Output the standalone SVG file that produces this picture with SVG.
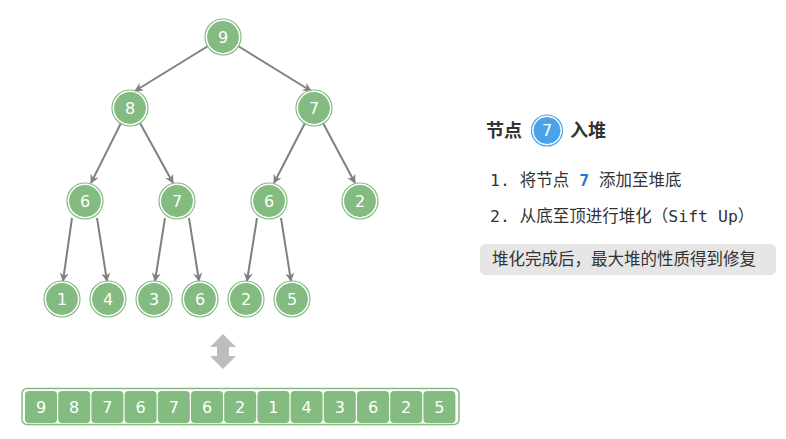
<svg xmlns="http://www.w3.org/2000/svg" width="786" height="439" viewBox="0 0 786 439">
<style>
.n circle.f{fill:#83bb80;stroke:#fff;stroke-width:1.2}
.n circle.o{fill:none;stroke:#83bb80;stroke-width:1.2}
.n text{font-family:"DejaVu Sans","Noto Sans",sans-serif;font-size:16px;fill:#fff;text-anchor:middle;dominant-baseline:central}
.e line{stroke:#808080;stroke-width:2;marker-end:url(#ah)}
.c rect{fill:#83bb80;}
.c text{font-family:"DejaVu Sans","Noto Sans",sans-serif;font-size:16px;fill:#fff;text-anchor:middle;dominant-baseline:central}
.t{font-family:"DejaVu Sans Mono","Noto Sans CJK SC",monospace;font-size:16.5px;fill:#333}
</style>
<defs>
<marker id="ah" viewBox="0 0 10 10" refX="9" refY="5" markerWidth="4.5" markerHeight="4.5" orient="auto" markerUnits="strokeWidth">
<path d="M0,0 L10,5 L0,10 L3,5 z" fill="#808080"/>
</marker>
</defs>
<rect width="786" height="439" fill="#fff"/>
<g id="edges" class="e">
<line x1="208" y1="46" x2="135" y2="91"/>
<line x1="238" y1="46" x2="311" y2="91"/>
<line x1="121" y1="123" x2="91" y2="183"/>
<line x1="140" y1="123" x2="173" y2="183"/>
<line x1="305" y1="123" x2="274" y2="183"/>
<line x1="323" y1="123" x2="355" y2="183"/>
<line x1="72" y1="218" x2="63" y2="281"/>
<line x1="97" y1="218" x2="107" y2="281"/>
<line x1="165" y1="218" x2="155" y2="281"/>
<line x1="189" y1="218" x2="199" y2="281"/>
<line x1="257" y1="218" x2="247" y2="281"/>
<line x1="281" y1="218" x2="291" y2="281"/>
</g>
<g id="n0" class="n"><circle class="o" cx="223" cy="37" r="18"/><circle class="f" cx="223" cy="37" r="16.5"/><text x="223" y="37">9</text></g>
<g id="n1" class="n"><circle class="o" cx="130" cy="108" r="18"/><circle class="f" cx="130" cy="108" r="16.5"/><text x="130" y="108">8</text></g>
<g id="n2" class="n"><circle class="o" cx="314" cy="108" r="18"/><circle class="f" cx="314" cy="108" r="16.5"/><text x="314" y="108">7</text></g>
<g id="n3" class="n"><circle class="o" cx="85" cy="201" r="18"/><circle class="f" cx="85" cy="201" r="16.5"/><text x="85" y="201">6</text></g>
<g id="n4" class="n"><circle class="o" cx="177" cy="201" r="18"/><circle class="f" cx="177" cy="201" r="16.5"/><text x="177" y="201">7</text></g>
<g id="n5" class="n"><circle class="o" cx="269" cy="201" r="18"/><circle class="f" cx="269" cy="201" r="16.5"/><text x="269" y="201">6</text></g>
<g id="n6" class="n"><circle class="o" cx="360" cy="201" r="18"/><circle class="f" cx="360" cy="201" r="16.5"/><text x="360" y="201">2</text></g>
<g id="n7" class="n"><circle class="o" cx="62" cy="299" r="18"/><circle class="f" cx="62" cy="299" r="16.5"/><text x="62" y="299">1</text></g>
<g id="n8" class="n"><circle class="o" cx="108" cy="299" r="18"/><circle class="f" cx="108" cy="299" r="16.5"/><text x="108" y="299">4</text></g>
<g id="n9" class="n"><circle class="o" cx="154" cy="299" r="18"/><circle class="f" cx="154" cy="299" r="16.5"/><text x="154" y="299">3</text></g>
<g id="n10" class="n"><circle class="o" cx="200" cy="299" r="18"/><circle class="f" cx="200" cy="299" r="16.5"/><text x="200" y="299">6</text></g>
<g id="n11" class="n"><circle class="o" cx="246" cy="299" r="18"/><circle class="f" cx="246" cy="299" r="16.5"/><text x="246" y="299">2</text></g>
<g id="n12" class="n"><circle class="o" cx="292" cy="299" r="18"/><circle class="f" cx="292" cy="299" r="16.5"/><text x="292" y="299">5</text></g>
<g id="swap">
<path d="M223,334 L236,347 L229,347 L229,356 L236,356 L223,369 L210,356 L217,356 L217,347 L210,347 Z" fill="#bdbdbd"/>
</g>
<g id="array" class="c">
<rect x="22" y="388.5" width="437" height="36" rx="5" fill="none" stroke="#83bb80" stroke-width="1.5" style="fill:none"/>
<rect x="25" y="391" width="32" height="32" rx="4"/><text x="41" y="407">9</text>
<rect x="58.2" y="391" width="32" height="32" rx="4"/><text x="74.2" y="407">8</text>
<rect x="91.4" y="391" width="32" height="32" rx="4"/><text x="107.4" y="407">7</text>
<rect x="124.6" y="391" width="32" height="32" rx="4"/><text x="140.6" y="407">6</text>
<rect x="157.8" y="391" width="32" height="32" rx="4"/><text x="173.8" y="407">7</text>
<rect x="191" y="391" width="32" height="32" rx="4"/><text x="207" y="407">6</text>
<rect x="224.2" y="391" width="32" height="32" rx="4"/><text x="240.2" y="407">2</text>
<rect x="257.4" y="391" width="32" height="32" rx="4"/><text x="273.4" y="407">1</text>
<rect x="290.6" y="391" width="32" height="32" rx="4"/><text x="306.6" y="407">4</text>
<rect x="323.8" y="391" width="32" height="32" rx="4"/><text x="339.8" y="407">3</text>
<rect x="357" y="391" width="32" height="32" rx="4"/><text x="373" y="407">6</text>
<rect x="390.2" y="391" width="32" height="32" rx="4"/><text x="406.2" y="407">2</text>
<rect x="423.4" y="391" width="32" height="32" rx="4"/><text x="439.4" y="407">5</text>
</g>
<g id="title">
<text x="486" y="137" font-family="'Noto Sans CJK SC',sans-serif" font-size="18" font-weight="bold" fill="#333">节点</text>
<circle cx="547" cy="130.5" r="15.5" fill="none" stroke="#4aa3e8" stroke-width="1.2"/>
<circle cx="547" cy="130.5" r="14" fill="#4aa3e8" stroke="#fff" stroke-width="1"/>
<text x="547" y="130.5" font-family="'DejaVu Sans',sans-serif" font-size="16" fill="#fff" text-anchor="middle" dominant-baseline="central">7</text>
<text x="570" y="137" font-family="'Noto Sans CJK SC',sans-serif" font-size="18" font-weight="bold" fill="#333">入堆</text>
</g>
<g id="steps">
<text class="t" x="490" y="186">1. 将节点 <tspan fill="#1a7fd4" font-weight="bold">7</tspan> 添加至堆底</text>
<text class="t" x="490" y="222">2. 从底至顶进行堆化（Sift Up）</text>
</g>
<g id="note">
<rect x="480" y="244" width="296" height="31" rx="5" fill="#e6e6e6"/>
<text x="492" y="265" font-family="'Noto Sans CJK SC',sans-serif" font-size="16.5" fill="#333">堆化完成后，最大堆的性质得到修复</text>
</g>
</svg>
